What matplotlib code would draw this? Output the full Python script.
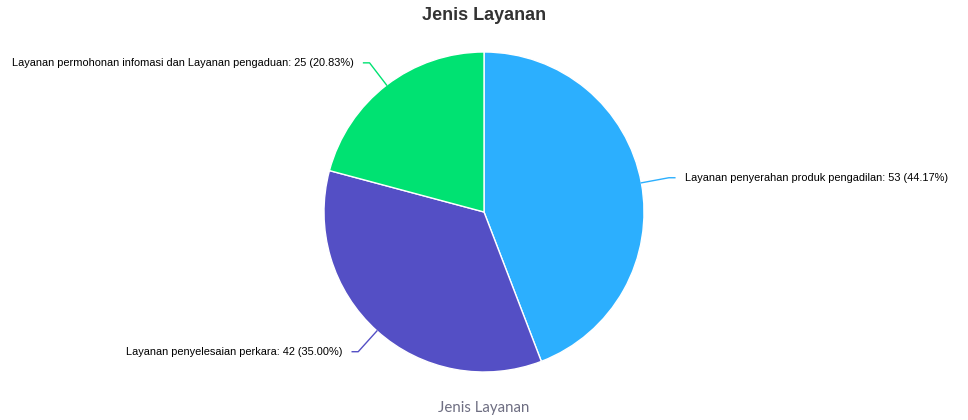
import numpy as np
import matplotlib.pyplot as plt

# Data
categories = [
    "Layanan penyerahan produk pengadilan",
    "Layanan penyelesaian perkara",
    "Layanan permohonan infomasi dan Layanan pengaduan",
]
values = [53, 42, 25]
colors = ["#2caffe", "#544fc5", "#00e272"]

W, H = 968, 420
fig = plt.figure(figsize=(W / 100, H / 100), dpi=100)
ax = fig.add_axes([0, 0, 1, 1])

cx, cy, r = 484, H - 212, 160
wedges, _ = ax.pie(values, colors=colors, startangle=90, counterclock=False,
                   center=(cx, cy), radius=r,
                   wedgeprops=dict(edgecolor="white", linewidth=1))
ax.set_xlim(0, W)
ax.set_ylim(0, H)
ax.set_aspect("auto")
ax.axis("off")

total = sum(values)
for w, cat, v, c in zip(wedges, categories, values, colors):
    mid = np.deg2rad((w.theta1 + w.theta2) / 2)
    dx, dy = np.cos(mid), np.sin(mid)
    x0, y0 = cx + r * dx, cy + r * dy
    x1, y1 = cx + 188 * dx, cy + 188 * dy
    side = 1 if dx > 0 else -1
    x2 = x1 + side * 6
    ax.plot([x0, x1, x2], [y0, y1, y1], color=c, lw=1, solid_joinstyle="round")
    label = f"{cat}: {v} ({v / total * 100:.2f}%)"
    ax.text(x2 + side * 10, y1, label, ha="left" if side > 0 else "right",
            va="center", fontsize=7.9, family="Liberation Sans", color="#000000")

fig.text(0.5, 1 - 15 / H, "Jenis Layanan", ha="center", va="center",
         fontsize=13, fontweight="bold", family="Liberation Sans", color="#333333")
fig.text(0.5, 1 - 408 / H, "Jenis Layanan", ha="center", va="center",
         fontsize=10.8, family="Lato", color="#6e6e82")

fig.savefig("out.png", dpi=100)
